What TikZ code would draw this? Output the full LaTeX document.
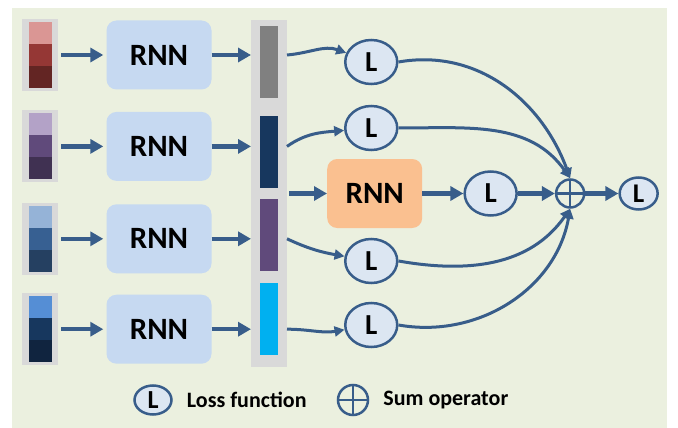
\documentclass[tikz,border=0pt]{standalone}
\usepackage{fontspec}
\setmainfont{Carlito}
\usetikzlibrary{positioning,arrows.meta,shapes.geometric}

\definecolor{bgcol}{HTML}{EBF0DF}
\definecolor{framegray}{HTML}{D9D9D9}
\definecolor{rnnblue}{HTML}{C6D9F1}
\definecolor{rnnorange}{HTML}{FAC090}
\definecolor{lossfill}{HTML}{DCE6F2}
\definecolor{linkblue}{HTML}{385D8A}
\definecolor{redA}{HTML}{DA9694}
\definecolor{redB}{HTML}{953735}
\definecolor{redC}{HTML}{632523}
\definecolor{violA}{HTML}{B3A2C7}
\definecolor{violB}{HTML}{604A7B}
\definecolor{violC}{HTML}{403152}
\definecolor{steelA}{HTML}{95B3D7}
\definecolor{steelB}{HTML}{376092}
\definecolor{steelC}{HTML}{254061}
\definecolor{navyA}{HTML}{558ED5}
\definecolor{navyB}{HTML}{17375E}
\definecolor{navyC}{HTML}{10243F}
\definecolor{barcyan}{HTML}{00B0F0}

\begin{document}
\begin{tikzpicture}[
      x=1pt, y=1pt,
      stack/.style={fill=framegray, minimum width=36pt, minimum height=72pt,
        inner sep=0pt, outer sep=0pt},
      cell/.style={minimum width=23pt, minimum height=22pt, inner sep=0pt, outer sep=0pt},
      rnn/.style={fill=rnnblue, rounded corners=10pt, minimum width=105pt,
        minimum height=69pt, font=\fontsize{31}{31}\selectfont\bfseries},
      bar/.style={minimum width=18pt, minimum height=72pt, inner sep=0pt, outer sep=0pt},
      loss/.style={ellipse, draw=linkblue, line width=2.5pt, fill=lossfill,
        minimum width=52pt, minimum height=44pt, inner sep=0pt,
        font=\fontsize{29}{29}\selectfont\bfseries},
      sumop/.style={circle, draw=linkblue, line width=2.5pt, minimum size=28pt, inner sep=0pt,
        path picture={\draw[linkblue, line width=2.5pt]
          (path picture bounding box.north) -- (path picture bounding box.south)
          (path picture bounding box.west) -- (path picture bounding box.east);}},
      legtext/.style={font=\fontsize{22}{22}\selectfont\bfseries, inner sep=0pt},
      link/.style={-{Triangle[length=13pt,width=14pt]}, line width=4.5pt, draw=linkblue},
      flow/.style={-{Triangle[length=10pt,width=10pt]}, line width=3pt, draw=linkblue}
      ]

  \fill[bgcol] (12,-8) rectangle (667,-428);
  \useasboundingbox (0,0) rectangle (678,-428);

	  \node[rnn] (rnn1) at (159,-55) {RNN};
	  \node[rnn, below = 22pt of rnn1] (rnn2) {RNN};
	  \node[rnn, below = 23pt of rnn2] (rnn3) {RNN};
	  \node[rnn, below = 21pt of rnn3] (rnn4) {RNN};

	  \node[stack, left = 48pt of rnn1] (in1) {};
	  \node[cell, fill=redA, below = 3pt of in1.north] (in1a) {};
	  \node[cell, fill=redB, below = 0pt of in1a] (in1b) {};
	  \node[cell, fill=redC, below = 0pt of in1b] (in1c) {};
	  \node[stack, left = 48pt of rnn2] (in2) {};
	  \node[cell, fill=violA, below = 3pt of in2.north] (in2a) {};
	  \node[cell, fill=violB, below = 0pt of in2a] (in2b) {};
	  \node[cell, fill=violC, below = 0pt of in2b] (in2c) {};
	  \node[stack, left = 48pt of rnn3] (in3) {};
	  \node[cell, fill=steelA, below = 3pt of in3.north] (in3a) {};
	  \node[cell, fill=steelB, below = 0pt of in3a] (in3b) {};
	  \node[cell, fill=steelC, below = 0pt of in3b] (in3c) {};
	  \node[stack, left = 48pt of rnn4] (in4) {};
	  \node[cell, fill=navyA, below = 3pt of in4.north] (in4a) {};
	  \node[cell, fill=navyB, below = 0pt of in4a] (in4b) {};
	  \node[cell, fill=navyC, below = 0pt of in4b] (in4c) {};

	  \node[fill=framegray, minimum width=36pt, minimum height=347pt, inner sep=0pt,
	    outer sep=0pt] (col) at (269,-193.5) {};
	  \node[bar, fill=gray, below = 6pt of col.north] (bar1) {};
	  \node[bar, fill=navyB, below = 18pt of bar1] (bar2) {};
	  \node[bar, fill=violB, below = 11pt of bar2] (bar3) {};
	  \node[bar, fill=barcyan, below = 12pt of bar3] (bar4) {};

	  \node[loss, right = 66pt of bar1] (L1) {L};
	  \node[loss, right = 66pt of bar2, yshift=24pt] (L2) {L};
	  \node[loss, right = 66pt of bar3, yshift=-26pt] (L4) {L};
	  \node[loss, right = 66pt of bar4, yshift=-6pt] (L5) {L};
	  \node[fill=rnnorange, rounded corners=10pt, minimum width=95pt, minimum height=69pt,
	    font=\fontsize{31}{31}\selectfont\bfseries, right = 40pt of col] (orng) {RNN};
	  \node[loss, right = 41pt of orng] (L3) {L};
	  \node[sumop, right = 37pt of L3] (sum) {};
	  \node[loss, minimum width=38pt, minimum height=32pt,
	    font=\fontsize{27}{27}\selectfont\bfseries, right = 33pt of sum] (L6) {L};

	  % legend
	  \node[loss, minimum width=37pt, minimum height=29pt,
	    font=\fontsize{26}{26}\selectfont\bfseries] (lg1) at (153,-400) {L};
	  \node[legtext, right = 14pt of lg1] (lgt1) {Loss function};
	  \node[sumop, minimum size=30pt] (lg2) at (353,-400) {};
	  \node[legtext, right = 14pt of lg2] (lgt2) {Sum operator};

  % Connect the nodes

  \draw[link, shorten <=3pt, shorten >=3pt] (in1) -- (rnn1);
  \draw[link, shorten <=3pt, shorten >=3pt] (in2) -- (rnn2);
  \draw[link, shorten <=3pt, shorten >=3pt] (in3) -- (rnn3);
  \draw[link, shorten <=3pt, shorten >=3pt] (in4) -- (rnn4);
  \draw[link] (rnn1) -- (rnn1 -| col.west);
  \draw[link] (rnn2) -- (rnn2 -| col.west);
  \draw[link] (rnn3) -- (rnn3 -| col.west);
  \draw[link] (rnn4) -- (rnn4 -| col.west);
  \draw[flow] (col.east |- rnn1) to[out=5, in=160] (L1);
  \draw[flow] (col.east |- rnn2) to[out=35, in=185] (L2);
  \draw[link, shorten <=2pt] (col.east |- orng) -- (orng);
  \draw[flow] (col.east |- rnn3) to[out=-25, in=170] (L4);
  \draw[flow] (col.east |- rnn4) to[out=0, in=190] (L5);
  \draw[link] (orng) -- (L3);
  \draw[link] (L3) -- (sum);
  \draw[link] (sum) -- (L6);
  \draw[flow] (L1.east) to[out=10, in=110] (sum.north);
  \draw[flow] (L2.east) to[out=0, in=125] (sum.north);
  \draw[flow] (L4.east) to[out=-10, in=-125] (sum.south);
  \draw[flow] (L5.east) to[out=-10, in=-100] (sum.south);

\end{tikzpicture}
\end{document}
